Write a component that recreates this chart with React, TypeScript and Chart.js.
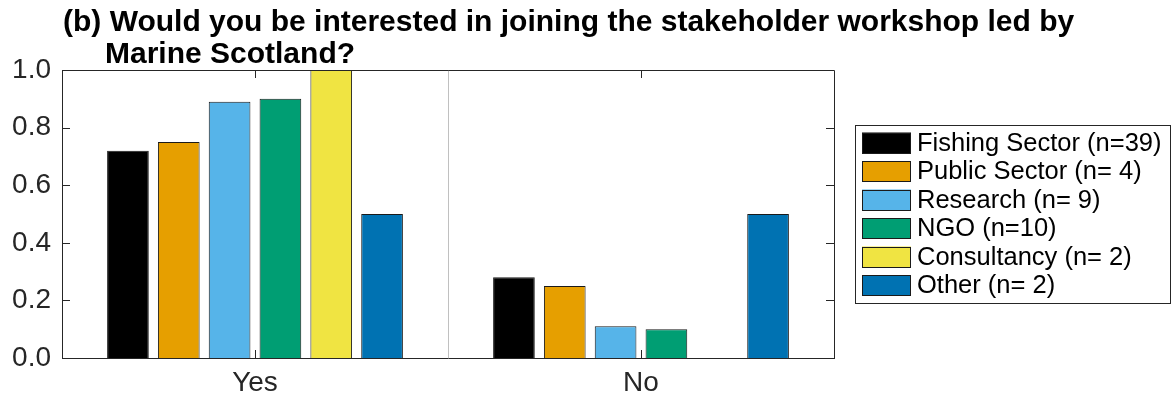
import React, { useEffect, useRef } from "react";
import { Chart, registerables } from "chart.js";

Chart.register(...registerables);

const categories = ["Yes", "No"];
const seriesLabels = [
  "Fishing Sector (n=39)",
  "Public Sector (n= 4)",
  "Research (n= 9)",
  "NGO (n=10)",
  "Consultancy (n= 2)",
  "Other (n= 2)",
];
const fishingSector = [0.72, 0.28];
const publicSector = [0.75, 0.25];
const research = [0.89, 0.11];
const ngo = [0.9, 0.1];
const consultancy = [1.0, 0.0];
const other = [0.5, 0.5];
const seriesColors = ["#000000", "#E69F00", "#56B4E9", "#009E73", "#F0E442", "#0072B2"];
const yTickValues = [0, 0.2, 0.4, 0.6, 0.8, 1.0];
const titleLines = [
  "(b) Would you be interested in joining the stakeholder workshop led by",
  "Marine Scotland?",
];

const FONT = "'Liberation Sans', Arial, Helvetica, sans-serif";
const AXIS_COLOR = "#262626";

const decorPlugin = {
  id: "decor",
  beforeDatasetsDraw(chart: any) {
    const { ctx, chartArea, scales } = chart;
    const x = scales.x;
    const mid = (x.getPixelForValue(0) + x.getPixelForValue(1)) / 2;
    ctx.save();
    ctx.strokeStyle = "#c0c0c0";
    ctx.lineWidth = 1;
    ctx.beginPath();
    ctx.moveTo(Math.round(mid) + 0.5, chartArea.top);
    ctx.lineTo(Math.round(mid) + 0.5, chartArea.bottom);
    ctx.stroke();
    ctx.restore();
  },
  afterDraw(chart: any) {
    const { ctx, chartArea, scales, data } = chart;
    const { left, right, top, bottom } = chartArea;
    ctx.save();
    // box
    ctx.strokeStyle = AXIS_COLOR;
    ctx.lineWidth = 1;
    ctx.beginPath();
    ctx.moveTo(left, top + 0.5);
    ctx.lineTo(right + 0.5, top + 0.5);
    ctx.lineTo(right + 0.5, bottom);
    ctx.stroke();
    // inward ticks
    const tl = 8;
    ctx.beginPath();
    yTickValues.forEach((v) => {
      const py = Math.round(scales.y.getPixelForValue(v)) + 0.5;
      ctx.moveTo(left, py);
      ctx.lineTo(left + tl, py);
      ctx.moveTo(right, py);
      ctx.lineTo(right - tl, py);
    });
    categories.forEach((_, i) => {
      const px = Math.round(scales.x.getPixelForValue(i)) + 0.5;
      ctx.moveTo(px, bottom);
      ctx.lineTo(px, bottom - tl);
      ctx.moveTo(px, top);
      ctx.lineTo(px, top + tl);
    });
    ctx.stroke();

    // title
    ctx.fillStyle = "#000000";
    ctx.font = `bold 30px ${FONT}`;
    ctx.textAlign = "left";
    ctx.textBaseline = "alphabetic";
    ctx.fillText(titleLines[0], 63, 31);
    ctx.fillText(titleLines[1], 105, 63);

    // legend
    const lx = 855, ly = 125, lw = 315, lh = 178;
    ctx.fillStyle = "#ffffff";
    ctx.fillRect(lx, ly, lw, lh);
    ctx.strokeStyle = AXIS_COLOR;
    ctx.lineWidth = 1;
    ctx.strokeRect(lx + 0.5, ly + 0.5, lw, lh);
    ctx.font = `25.5px ${FONT}`;
    ctx.textBaseline = "middle";
    data.datasets.forEach((ds: any, i: number) => {
      const sy = 132.5 + i * 28.5;
      ctx.fillStyle = ds.backgroundColor;
      ctx.fillRect(862, sy, 49, 21);
      ctx.strokeStyle = "#1a1a1a";
      ctx.strokeRect(862.5, Math.round(sy) + 0.5, 48, 20);
      ctx.fillStyle = "#000000";
      ctx.fillText(ds.label, 917, sy + 11);
    });
    ctx.restore();
  },
};

export default function App() {
  const ref = useRef<HTMLCanvasElement>(null);
  useEffect(() => {
    const seriesValues = [fishingSector, publicSector, research, ngo, consultancy, other];
    const chart = new Chart(ref.current as HTMLCanvasElement, {
      type: "bar",
      data: {
        labels: categories,
        datasets: seriesValues.map((vals, i) => ({
          label: seriesLabels[i],
          data: vals,
          backgroundColor: seriesColors[i],
          borderColor: "#1a1a1a",
          borderWidth: 1,
          categoryPercentage: 0.79,
          barPercentage: 0.82,
        })),
      },
      options: {
        responsive: false,
        animation: false,
        events: [],
        layout: { padding: { left: 0, top: 70, right: 340, bottom: 0 } },
        plugins: {
          legend: { display: false },
          title: { display: false },
          tooltip: { enabled: false },
        },
        scales: {
          x: {
            grid: { display: false, drawTicks: false },
            border: { display: true, color: AXIS_COLOR, width: 1 },
            ticks: {
              font: { family: FONT, size: 28 },
              color: AXIS_COLOR,
              padding: 8,
            },
            afterFit: (s: any) => {
              s.height = 40;
            },
          },
          y: {
            min: 0,
            max: 1,
            grid: { display: false, drawTicks: false },
            border: { display: true, color: AXIS_COLOR, width: 1 },
            ticks: {
              stepSize: 0.2,
              font: { family: FONT, size: 28 },
              color: AXIS_COLOR,
              padding: 11,
              callback: (v: any) => Number(v).toFixed(1),
            },
            afterFit: (s: any) => {
              s.width = 62;
            },
          },
        },
      },
      plugins: [decorPlugin],
    });
    return () => chart.destroy();
  }, []);
  return (
    <div style={{ position: "fixed", left: 0, top: 0, width: 1174, height: 398, background: "#fff" }}>
      <canvas ref={ref} width={1174} height={398} />
    </div>
  );
}
